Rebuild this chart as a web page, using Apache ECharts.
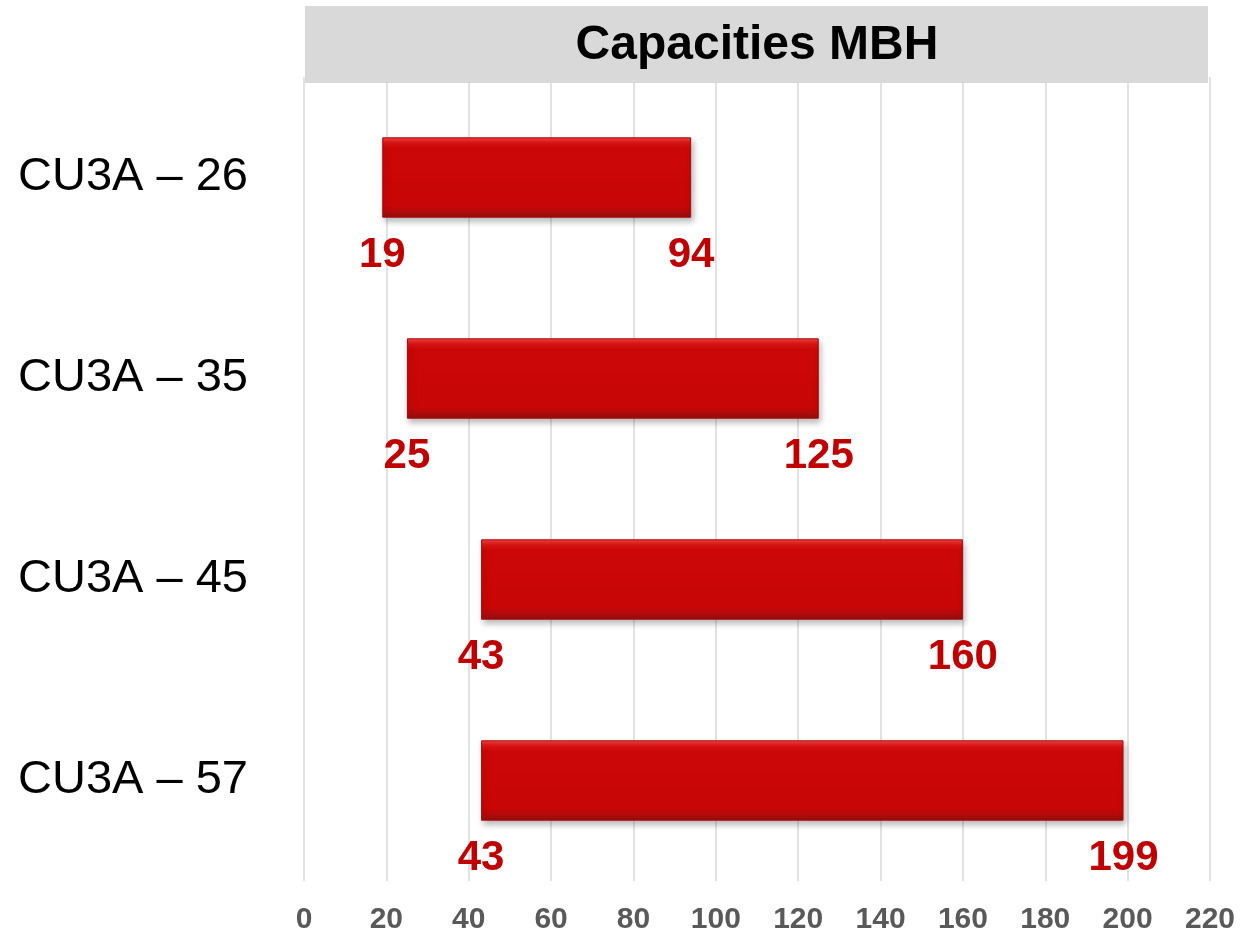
<!DOCTYPE html>
<html>
<head>
<meta charset="utf-8">
<script src="https://cdn.jsdelivr.net/npm/echarts@6/dist/echarts.min.js"></script>
<style>
html,body{margin:0;padding:0;background:#fff;}
#chart{width:1244px;height:936px;}
</style>
</head>
<body>
<div id="chart"></div>
<script>
var chartTitle = 'Capacities MBH';
var categories = ['CU3A \u2013 26', 'CU3A \u2013 35', 'CU3A \u2013 45', 'CU3A \u2013 57'];
var minCapacity = [19, 25, 43, 43];
var maxCapacity = [94, 125, 160, 199];
var xTicks = [0, 20, 40, 60, 80, 100, 120, 140, 160, 180, 200, 220];

var FONT = '"Liberation Sans", Arial, sans-serif';
var chart = echarts.init(document.getElementById('chart'), null, {renderer: 'canvas'});

var rangeData = maxCapacity.map(function (v, i) { return v - minCapacity[i]; });
var startLabels = minCapacity.map(function (v, i) { return [v, i]; });
var endLabels = maxCapacity.map(function (v, i) { return [v, i]; });

var labelStyle = {
  show: true,
  position: 'inside',
  offset: [0, 78],
  color: '#c00000',
  opacity: 1,
  fontFamily: FONT,
  fontWeight: 'bold',
  fontSize: 42,
  formatter: function (p) { return String(p.value[0]); }
};

var option = {
  backgroundColor: '#ffffff',
  animation: false,
  graphic: [
    {
      type: 'rect',
      shape: {x: 305, y: 6, width: 903, height: 77},
      style: {fill: '#d9d9d9'},
      z: 10
    },
    {
      type: 'text',
      x: 757, y: 46,
      style: {
        text: chartTitle,
        fill: '#000000',
        font: 'bold 48px ' + FONT,
        textAlign: 'center',
        textVerticalAlign: 'middle'
      },
      z: 11
    }
  ],
  grid: {left: 304, right: 34, top: 77, bottom: 55, containLabel: false},
  xAxis: {
    type: 'value',
    min: xTicks[0],
    max: xTicks[xTicks.length - 1],
    interval: xTicks[1] - xTicks[0],
    axisLine: {show: false},
    axisTick: {show: false},
    splitLine: {show: true, lineStyle: {color: '#d9d9d9', width: 1.5}},
    axisLabel: {
      color: '#595959',
      fontFamily: FONT,
      fontWeight: 'bold',
      fontSize: 30,
      margin: 24
    }
  },
  yAxis: {
    type: 'category',
    data: categories,
    inverse: true,
    axisLine: {show: false},
    axisTick: {show: false},
    splitLine: {show: false},
    axisLabel: {
      color: '#000000',
      fontFamily: FONT,
      fontSize: 47,
      margin: 56
    }
  },
  series: [
    {
      name: 'base',
      type: 'bar',
      stack: 'cap',
      barWidth: '40%',
      itemStyle: {color: 'rgba(0,0,0,0)'},
      emphasis: {disabled: true},
      data: minCapacity
    },
    {
      name: 'range',
      type: 'bar',
      stack: 'cap',
      barWidth: '40%',
      itemStyle: {
        color: {
          type: 'linear', x: 0, y: 0, x2: 0, y2: 1,
          colorStops: [
            {offset: 0, color: '#f24444'},
            {offset: 0.07, color: '#dc1414'},
            {offset: 0.14, color: '#cc0707'},
            {offset: 0.85, color: '#c80606'},
            {offset: 0.92, color: '#b40a0a'},
            {offset: 1, color: '#8c1010'}
          ]
        },
        borderColor: '#b00808',
        borderWidth: 1,
        shadowColor: 'rgba(0,0,0,0.28)',
        shadowBlur: 6,
        shadowOffsetX: 2,
        shadowOffsetY: 4
      },
      emphasis: {disabled: true},
      data: rangeData
    },
    {
      name: 'startLabels',
      type: 'scatter',
      symbolSize: 0,
      itemStyle: {opacity: 1},
      label: labelStyle,
      emphasis: {disabled: true},
      data: startLabels
    },
    {
      name: 'endLabels',
      type: 'scatter',
      symbolSize: 0,
      itemStyle: {opacity: 1},
      label: labelStyle,
      emphasis: {disabled: true},
      data: endLabels
    }
  ]
};
chart.setOption(option);
</script>
</body>
</html>
